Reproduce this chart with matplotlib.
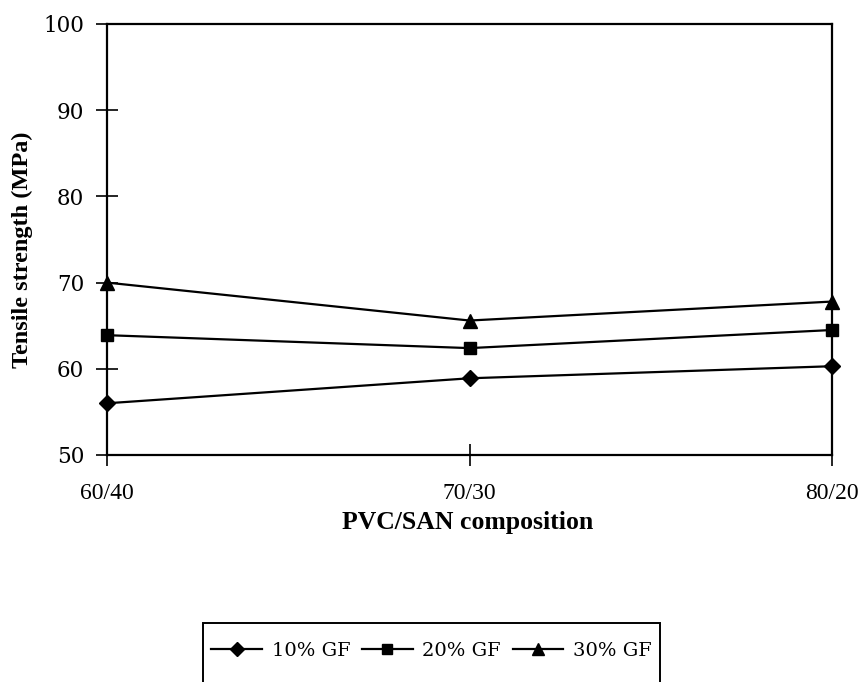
import matplotlib
matplotlib.use("Agg")
import matplotlib.pyplot as plt
from matplotlib.patches import Rectangle
from matplotlib.lines import Line2D

categories = ["60/40", "70/30", "80/20"]
gf10 = [56.0, 58.9, 60.3]
gf20 = [63.9, 62.4, 64.5]
gf30 = [70.0, 65.6, 67.8]
series_labels = ["10% GF", "20% GF", "30% GF"]
y_ticks = [50, 60, 70, 80, 90, 100]

fig = plt.figure(figsize=(8.61, 6.82), dpi=100)
ax = fig.add_axes([107/861, 1-455/682, (832-107)/861, (455-24)/682])

x = list(range(len(categories)))
markers = ["D", "s", "^"]
sizes = [8, 9, 10]
for vals, m, ms, lab in zip([gf10, gf20, gf30], markers, sizes, series_labels):
    ax.plot(x, vals, color="black", lw=1.6, marker=m, markersize=ms,
            markerfacecolor="black", markeredgecolor="black", clip_on=False,
            label=lab)

ax.set_xlim(0, len(categories) - 1)
ax.set_ylim(50, 100)
ax.set_yticks(y_ticks)
ax.set_xticks(x)
ax.set_xticklabels(categories)
for s in ax.spines.values():
    s.set_linewidth(1.6)
    s.set_color("black")

ax.tick_params(axis="y", direction="inout", length=16, width=1.2, pad=8.5)
ax.tick_params(axis="x", direction="inout", length=16, width=1.2, pad=12)
for t in ax.get_yticklabels():
    t.set_fontfamily("DejaVu Serif")
    t.set_fontsize(15.5)
for t in ax.get_xticklabels():
    t.set_fontfamily("Liberation Serif")
    t.set_fontsize(17)

fig.text(468/861, 1-522/682, "PVC/SAN composition", ha="center", va="center",
         fontsize=18.5, fontweight="bold", family="Liberation Serif")
fig.text(22/861, 1-250/682, "Tensile strength (MPa)", ha="center", va="center",
         rotation=90, fontsize=17.5, fontweight="bold", family="Liberation Serif")

# legend box (extends beyond the bottom of the figure)
bx0, bx1 = 203/861, 660/861
by1 = 1-623/682
fig.patches.append(Rectangle((bx0, -0.05), bx1-bx0, by1+0.05,
                             transform=fig.transFigure, fill=False,
                             edgecolor="black", lw=1.4))

leg_handles = [Line2D([0], [0], color="black", lw=1.6, marker=m, markersize=ms*0.85,
                      markerfacecolor="black") for m, ms in zip(markers, sizes)]
fig.legend(leg_handles, series_labels, loc="center",
           bbox_to_anchor=((bx0+bx1)/2, 1-651/682), ncol=3, frameon=False,
           handlelength=2.6, handletextpad=0.5, columnspacing=0.6,
           prop={"family": "DejaVu Serif", "size": 14})

fig.savefig("out.png", dpi=100, facecolor="white")
